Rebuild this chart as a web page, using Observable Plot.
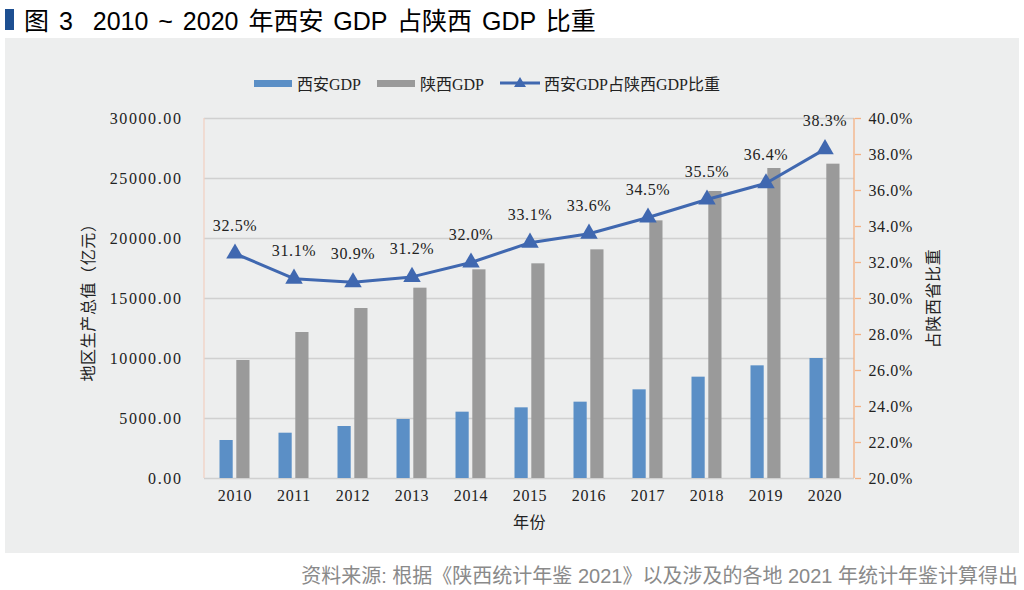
<!DOCTYPE html>
<html>
<head>
<meta charset="utf-8">
<script src="https://cdn.jsdelivr.net/npm/d3@7"></script>
<script src="https://cdn.jsdelivr.net/npm/@observablehq/plot@0.6"></script>
<style>
  html, body { margin: 0; padding: 0; background: #fff; }
  #page { position: relative; width: 1024px; height: 590px; overflow: hidden; }
  #title { position: absolute; left: 5px; top: 4px; height: 30px; display: flex; align-items: center;
    font-family: "Liberation Sans", "Noto Sans CJK SC", sans-serif; font-size: 25px; font-weight: normal; color: #000; white-space: pre; word-spacing: 3px; }
  #title .bar { display: inline-block; width: 9px; height: 21px; background: #1d4f91; margin-right: 10px; }
  #panel { position: absolute; left: 5px; top: 38px; width: 1014px; height: 515px; background: #edeeee; }
  #chart { position: absolute; left: 0; top: 0; }
  .leg { position: absolute; top: 34px; height: 22px; display: flex; align-items: center;
    font-family: "Liberation Serif", "Noto Sans CJK SC", serif; font-size: 16px; color: #222; }
  .sw { display: inline-block; width: 38px; height: 7px; margin-right: 5px; }
  #caption { position: absolute; right: 6px; top: 560px; font-family: "Liberation Sans", "Noto Sans CJK SC", sans-serif;
    font-size: 20px; color: #8a8a8a; white-space: pre; }
</style>
</head>
<body>
<div id="page">
  <div id="title"><span class="bar"></span>图 3  2010 ~ 2020 年西安 GDP 占陕西 GDP 比重</div>
  <div id="panel">
    <div id="chart"></div>
    <div class="leg" style="left:249px"><span class="sw" style="background:#5b8fc6"></span><span id="l1"></span></div>
    <div class="leg" style="left:372px"><span class="sw" style="background:#9a9a9a"></span><span id="l2"></span></div>
    <div class="leg" style="left:495px"><svg width="40" height="14" style="margin-right:4px"><line x1="0" y1="7" x2="40" y2="7" stroke="#4068b0" stroke-width="3"/><path d="M20,1 L26,11 L14,11 Z" fill="#4068b0"/></svg><span id="l3"></span></div>
  </div>
  <div id="caption">资料来源: 根据《陕西统计年鉴 2021》以及涉及的各地 2021 年统计年鉴计算得出</div>
</div>
<script>
// ---- data ----
const years = [2010, 2011, 2012, 2013, 2014, 2015, 2016, 2017, 2018, 2019, 2020];
const xianGDP = [3167, 3775, 4333, 4917, 5527, 5889, 6361, 7389, 8444, 9389, 10000];
const shaanxiGDP = [9833, 12167, 14167, 15860, 17390, 17890, 19055, 21470, 23917, 25833, 26194];
const shareRatio = [32.5, 31.1, 30.9, 31.2, 32.0, 33.1, 33.6, 34.5, 35.5, 36.4, 38.3];
const leftTicks = [0, 5000, 10000, 15000, 20000, 25000, 30000];
const rightTicks = [20, 22, 24, 26, 28, 30, 32, 34, 36, 38, 40];
const seriesNames = ["西安GDP", "陕西GDP", "西安GDP占陕西GDP比重"];
const xLabel = "年份";
const yLeftLabel = "地区生产总值（亿元）";
const yRightLabel = "占陕西省比重";

document.getElementById("l1").textContent = seriesNames[0];
document.getElementById("l2").textContent = seriesNames[1];
document.getElementById("l3").textContent = seriesNames[2];

// right axis (percent) mapped onto left scale domain
const pMin = 20, pMax = 40, yMax = 30000;
const pctToY = p => (p - pMin) / (pMax - pMin) * yMax;
const yToPct = v => v / yMax * (pMax - pMin) + pMin;

const data = years.map((year, i) => ({year, xian: xianGDP[i], shaanxi: shaanxiGDP[i], share: shareRatio[i]}));

const font = `"Liberation Serif", "Noto Sans CJK SC", serif`;
const txt = "#222";

const edgeLine = (side, color) => (index, scales, values, dims) => {
  const x = side === "left" ? dims.marginLeft : dims.width - dims.marginRight;
  const g = d3.create("svg:line")
    .attr("x1", x).attr("x2", x)
    .attr("y1", dims.marginTop).attr("y2", dims.height - dims.marginBottom)
    .attr("stroke", color).attr("stroke-width", 1.3);
  return g.node();
};

const chart = Plot.plot({
  width: 1014,
  height: 515,
  marginLeft: 199,
  marginRight: 165,
  marginTop: 80,
  marginBottom: 75,
  style: {background: "transparent", fontFamily: font, fontSize: "15px", color: txt, letterSpacing: "0.6px"},
  x: {type: "band", domain: years, padding: 0, label: null},
  y: {domain: [0, yMax], label: null},
  marks: [
    Plot.gridY(leftTicks, {stroke: "#d0d0d0", strokeOpacity: 1, strokeWidth: 1.5}),
    Plot.barY(data, {x: "year", y: "xian", fill: "#5b8fc6", insetLeft: 14.5, insetRight: 31.3}),
    Plot.barY(data, {x: "year", y: "shaanxi", fill: "#9a9a9a", insetLeft: 31.3, insetRight: 14.5}),
    edgeLine("left", "#f2d2c4"),
    edgeLine("right", "#f4b183"),
    Plot.axisY(leftTicks, {anchor: "left", tickSize: 0, tickPadding: 22, tickFormat: d3.format(".2f"),
      label: null, fill: txt, fontSize: 16}),
    Plot.axisY(rightTicks.map(pctToY), {anchor: "right", tickSize: 6, tickPadding: 8, stroke: "#f4b183", strokeWidth: 1.3,
      tickFormat: v => yToPct(v).toFixed(1) + "%", label: null, fill: txt, fontSize: 16}),
    Plot.axisX({anchor: "bottom", tickSize: 0, tickPadding: 11, label: null, fill: txt, fontSize: 16, tickFormat: d => String(d)}),
    Plot.line(data, {x: "year", y: d => pctToY(d.share), stroke: "#4068b0", strokeWidth: 3}),
    Plot.dot(data, {x: "year", y: d => pctToY(d.share), symbol: "triangle", fill: "#4068b0", r: 6.5}),
    Plot.text(data, {x: "year", y: d => pctToY(d.share), text: d => d.share.toFixed(1) + "%", dy: -28, fontSize: 16, fill: txt}),
    Plot.text([xLabel], {frameAnchor: "bottom", lineAnchor: "middle", dy: 44, fontSize: 16, fill: txt}),
    Plot.text([yLeftLabel], {frameAnchor: "left", textAnchor: "middle", lineAnchor: "middle", rotate: -90, dx: -116, fontSize: 16, fill: txt}),
    Plot.text([yRightLabel], {frameAnchor: "right", textAnchor: "middle", lineAnchor: "middle", rotate: -90, dx: 79, fontSize: 16, fill: txt})
  ]
});
// wider spacing for the left axis tick labels
d3.select(chart).selectAll('g[aria-label="y-axis tick label"]')
  .filter(function() { return this.getAttribute("text-anchor") === "end"; })
  .style("letter-spacing", "1.6px");
document.getElementById("chart").appendChild(chart);
</script>
</body>
</html>
